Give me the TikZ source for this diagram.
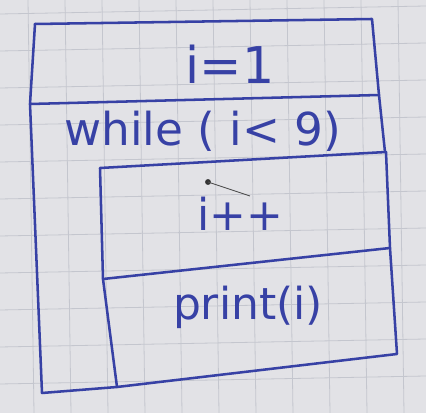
\documentclass[tikz,border=0pt]{standalone}
\usepackage{fontspec}
\setmainfont{DejaVu Sans}
\definecolor{ink}{RGB}{55,65,165}
\definecolor{paper}{RGB}{226,226,230}
\definecolor{gridc}{RGB}{196,198,206}
\tikzset{
  pen/.style={draw=ink, line width=1.9pt, line join=round, line cap=round},
  lbl/.style={text=ink, font=\fontsize{33}{38}\selectfont, inner sep=0pt}
}
\begin{document}
\begin{tikzpicture}[x=0.75pt,y=-0.75pt]
\useasboundingbox (0,0) rectangle (426,413);
\fill[paper] (0,0) rectangle (426,413);
% graph paper grid
\foreach \gx in {-9,28,65,102,139,176,213,250,287,324,361,398} {
  \draw[gridc, line width=0.6pt] (\gx,0) -- (\gx+6,413);
}
\foreach \gy in {10,47,84,121,158,195,232,269,306,343,380} {
  \draw[gridc, line width=0.6pt] (0,\gy+4) -- (426,\gy-4);
}
% outer init block
\coordinate (tl) at (35,24);
\coordinate (tr) at (372,19);
\coordinate (ml) at (30,104);
\coordinate (mr) at (379,95);
\draw[pen] (tl) -- (tr) -- (mr);
\draw[pen] (tl) -- (ml) -- (mr);
% while block
\coordinate (wr) at (385,152);
\coordinate (bl) at (42,393);
\coordinate (ib) at (117,387);
\draw[pen] (mr) -- (wr);
\draw[pen] (ml) -- (bl) -- (ib);
% inner body
\coordinate (itl) at (100,168);
\coordinate (itr) at (386,152);
\coordinate (sl) at (103,279);
\coordinate (sr) at (390,248);
\coordinate (ibr) at (397,354);
\draw[pen] (itl) -- (itr) -- (sr) -- (ibr) -- (ib) -- (sl) -- (itl);
\draw[pen] (sl) -- (sr);
% texts
\node[lbl, font=\fontsize{38}{42}\selectfont] (init) at (230,64) {i=1};
\node[lbl, font=\fontsize{34}{40}\selectfont] (loop) at (203,131) {while ( i< 9)};
\node[lbl] (inc) at (240,214) {i++};
\node[lbl] (out) at (248,307) {print(i)};
% pen marks
\fill[black!80] (208,182) circle (2.2pt);
\draw[black!70, line width=0.6pt] (208,182) -- (250,196);
\end{tikzpicture}
\end{document}
